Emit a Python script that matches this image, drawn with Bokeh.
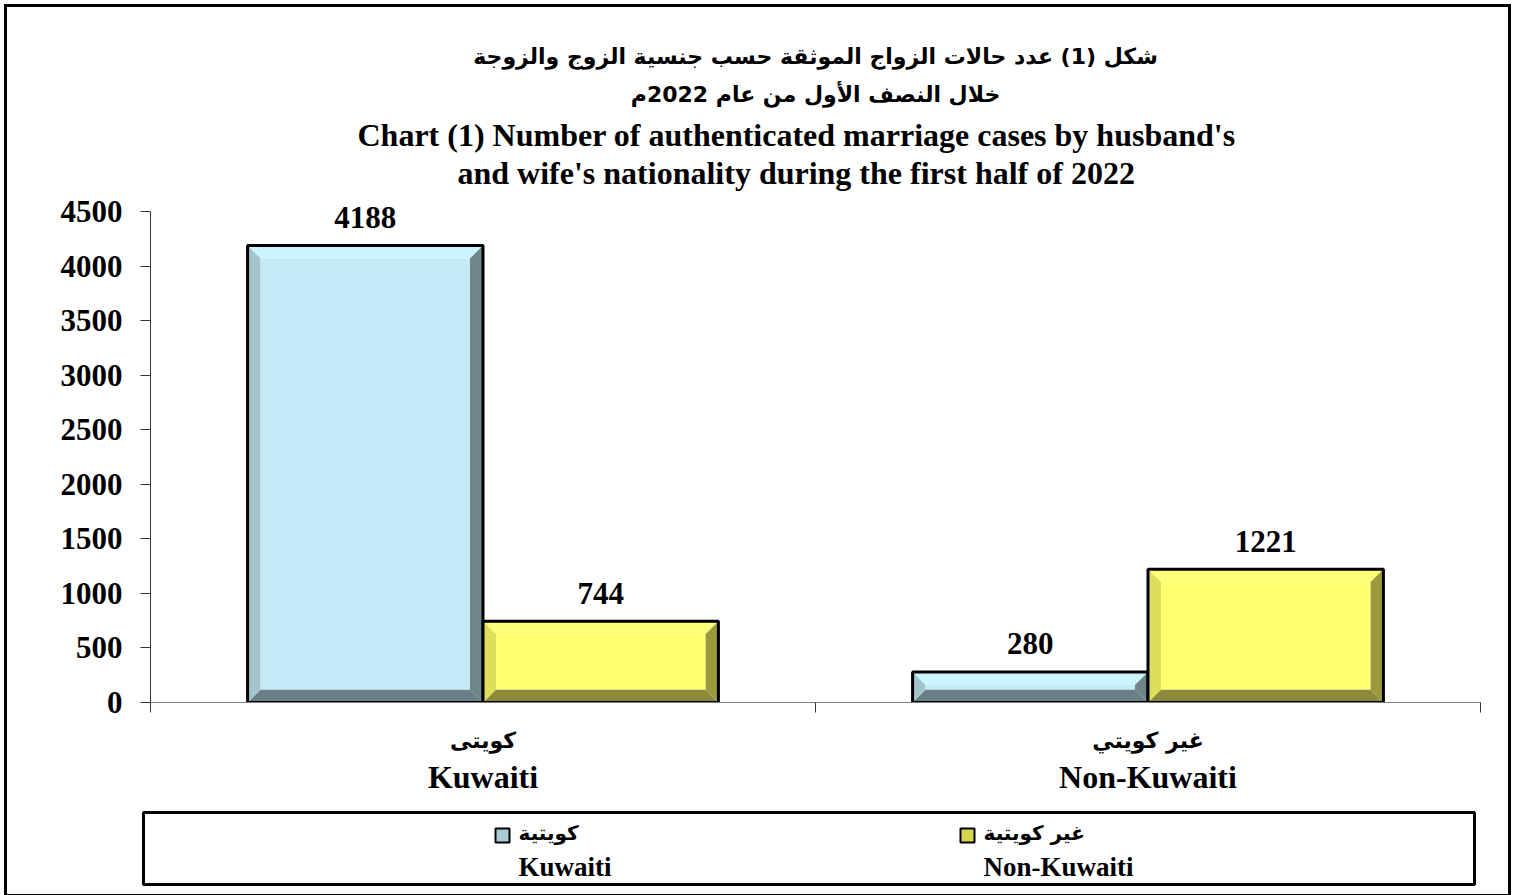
from bokeh.plotting import figure
from bokeh.models import Range1d, FixedTicker, LinearAxis, Title, ColumnDataSource
from bokeh.layouts import column
from bokeh.embed import file_html
from bokeh.resources import INLINE
from bokeh.core.properties import value

# ---------------- data ----------------
categories_ar = ["كويتى", "غير كويتي"]
categories_en = ["Kuwaiti", "Non-Kuwaiti"]
series_ar = ["كويتية", "غير كويتية"]
series_en = ["Kuwaiti", "Non-Kuwaiti"]
wife_kuwaiti = [4188, 280]
wife_non_kuwaiti = [744, 1221]
y_ticks = [0, 500, 1000, 1500, 2000, 2500, 3000, 3500, 4000, 4500]

title_ar = ["شكل (1) عدد حالات الزواج الموثقة حسب جنسية الزوج والزوجة",
            "خلال النصف الأول من عام 2022م"]
title_en = ["Chart (1) Number of authenticated marriage cases by husband's",
            "and wife's nationality during the first half of 2022"]

# ---------------- styles ----------------
SERIF = "Liberation Serif"
ARAB = "DejaVu Sans"
palettes = [
    dict(face="#C4EBF5", top="#CAF5FF", left="#A1C4CD", right="#6E868A", bottom="#6A7F84", swatch="#A9CDD6"),
    dict(face="#FFFF70", top="#FFFF7A", left="#DEDE5A", right="#9A9A3C", bottom="#8B8B3B", swatch="#D6D64E"),
]

W = 1501
HA = 797
HB = 90
FL, FR, FT, FB = 143, 28, 183, 102
AXIS_PX = 491            # pixel height of the 0..4500 axis span
frame_w = W - FL - FR
frame_h = HA - FT - FB
X0, X1 = 0.0, 2.0
Y0 = 0.0
Y_AX_TOP = y_ticks[-1]
Y1 = Y_AX_TOP * frame_h / AXIS_PX
bar_w = 0.354
bevel_px = 13
bx = bevel_px * (X1 - X0) / frame_w
by_unit = bevel_px * Y_AX_TOP / AXIS_PX

p = figure(width=W, height=HA, x_range=Range1d(X0, X1), y_range=Range1d(Y0, Y1),
           output_backend="svg", toolbar_location=None,
           x_axis_type=None, y_axis_type=None,
           min_border_left=FL, min_border_right=FR, min_border_top=FT, min_border_bottom=FB)
p.frame_align = False
p.outline_line_color = None
p.xgrid.visible = False
p.ygrid.visible = False
p.background_fill_color = "white"
p.border_fill_color = "white"

# titles (first added is nearest to the plot)
for txt, font, size, stand, al, off in [(title_en[1], SERIF, "32px", 0, "left", 307),
                                        (title_en[0], SERIF, "32px", 0, "left", 207),
                                        (title_ar[1], ARAB, "22px", 16, "center", 0),
                                        (title_ar[0], ARAB, "22px", 6, "center", 0)]:
    p.add_layout(Title(text=txt, align=al, offset=off, text_font=font, text_font_size=size,
                       text_font_style="bold", text_color="black", standoff=stand), "above")

# y axis
yax = LinearAxis(ticker=FixedTicker(ticks=y_ticks, minor_ticks=[]), bounds=(y_ticks[0], y_ticks[-1]))
yax.major_tick_out = 10
yax.major_tick_in = 0
yax.minor_tick_out = 0
yax.minor_tick_in = 0
yax.axis_line_color = "#333333"
yax.major_tick_line_color = "#333333"
yax.major_label_text_font = SERIF
yax.major_label_text_font_size = "31px"
yax.major_label_text_font_style = "bold"
yax.major_label_text_color = "black"
yax.major_label_standoff = 18
p.add_layout(yax, "left")

centers = [i + 0.5 for i in range(len(categories_en))]
boundaries = [float(i) for i in range(len(categories_en) + 1)]

xax1 = LinearAxis(ticker=FixedTicker(ticks=centers, minor_ticks=boundaries))
xax1.major_label_overrides = {c: t for c, t in zip(centers, categories_ar)}
xax1.major_tick_out = 0
xax1.major_tick_in = 0
xax1.minor_tick_out = 10
xax1.minor_tick_in = 0
xax1.axis_line_color = "#808080"
xax1.minor_tick_line_color = "#333333"
xax1.major_label_text_font = ARAB
xax1.major_label_text_font_size = "22px"
xax1.major_label_text_font_style = "bold"
xax1.major_label_text_color = "black"
xax1.major_label_standoff = 15
p.add_layout(xax1, "below")

xax2 = LinearAxis(ticker=FixedTicker(ticks=centers, minor_ticks=[]))
xax2.major_label_overrides = {c: t for c, t in zip(centers, categories_en)}
xax2.major_tick_out = 0
xax2.major_tick_in = 0
xax2.minor_tick_out = 0
xax2.minor_tick_in = 0
xax2.axis_line_color = None
xax2.major_label_text_font = SERIF
xax2.major_label_text_font_size = "32px"
xax2.major_label_text_font_style = "bold"
xax2.major_label_text_color = "black"
xax2.major_label_standoff = 3
p.add_layout(xax2, "below")

# bars with bevels
series_values = [wife_kuwaiti, wife_non_kuwaiti]
for s, vals in enumerate(series_values):
    pal = palettes[s]
    x0s, x1s = [], []
    faces = dict(xs=[], ys=[])
    polys = {k: dict(xs=[], ys=[]) for k in ("top", "bottom", "left", "right")}
    for c, v in zip(centers, vals):
        x0 = c - bar_w if s == 0 else c
        x1 = x0 + bar_w
        by = min(by_unit, v / 2.0)
        x0s.append(x0)
        x1s.append(x1)
        ix0, ix1, iy0, iy1 = x0 + bx, x1 - bx, by, v - by
        polys["top"]["xs"].append([x0, x1, ix1, ix0]); polys["top"]["ys"].append([v, v, iy1, iy1])
        polys["bottom"]["xs"].append([x0, x1, ix1, ix0]); polys["bottom"]["ys"].append([0, 0, iy0, iy0])
        polys["left"]["xs"].append([x0, ix0, ix0, x0]); polys["left"]["ys"].append([0, iy0, iy1, v])
        polys["right"]["xs"].append([x1, ix1, ix1, x1]); polys["right"]["ys"].append([0, iy0, iy1, v])
        faces["xs"].append([ix0, ix1, ix1, ix0]); faces["ys"].append([iy0, iy0, iy1, iy1])
    for k in ("top", "bottom", "left", "right"):
        p.patches(polys[k]["xs"], polys[k]["ys"], fill_color=pal[k], line_color=None)
    p.patches(faces["xs"], faces["ys"], fill_color=pal["face"], line_color=None)
    src = ColumnDataSource(dict(left=x0s, right=x1s, top=vals, bottom=[0] * len(vals),
                                xc=[(a + b) / 2 for a, b in zip(x0s, x1s)],
                                lab=[str(v) for v in vals]))
    p.quad(left="left", right="right", top="top", bottom="bottom", source=src,
           fill_color=None, line_color="black", line_width=3)
    p.text(x="xc", y="top", text="lab", source=src, text_align="center", text_baseline="alphabetic",
           y_offset=-28, text_font=value(SERIF), text_font_size="31px", text_font_style="bold",
           text_color="black")

# ---------------- legend figure ----------------
LB_L, LB_R, LB_T, LB_B = 136, 34, 8, 10
lw = W - LB_L - LB_R
lh = HB - LB_T - LB_B
q = figure(width=W, height=HB, x_range=Range1d(0, lw), y_range=Range1d(lh, 0),
           output_backend="svg", toolbar_location=None, x_axis_type=None, y_axis_type=None,
           min_border_left=LB_L, min_border_right=LB_R, min_border_top=LB_T, min_border_bottom=LB_B)
q.frame_align = False
q.xgrid.visible = False
q.ygrid.visible = False
q.outline_line_color = "black"
q.outline_line_width = 3
legend_x = [359, 824]
leg = ColumnDataSource(dict(x=legend_x, y=[23, 23], ar=series_ar, en=series_en,
                            fill=[pal["swatch"] for pal in palettes]))
q.scatter(x="x", y="y", source=leg, marker="square", size=14, fill_color="fill",
          line_color="black", line_width=2)
q.text(x="x", y="y", text="ar", source=leg, x_offset=16, y_offset=-3, text_align="left",
       text_baseline="middle", text_font=value(ARAB), text_font_size="20px", text_font_style="bold",
       text_color="black")
q.text(x="x", y="y", text="en", source=leg, x_offset=16, y_offset=31, text_align="left",
       text_baseline="middle", text_font=value(SERIF), text_font_size="27px", text_font_style="bold",
       text_color="black")

layout = column(p, q, styles={"border": "3px solid black", "background-color": "white",
                              "margin-left": "4px", "margin-top": "4px"})
open("out.html", "w").write(file_html(layout, INLINE))
